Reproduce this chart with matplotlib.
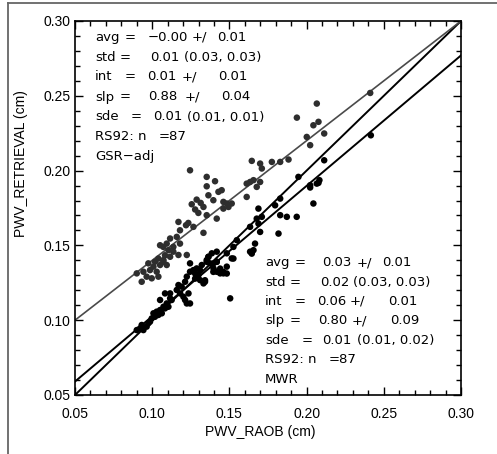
import matplotlib
matplotlib.use('Agg')

import matplotlib.pyplot as plt
from matplotlib.ticker import MultipleLocator, FormatStrFormatter
from matplotlib.lines import Line2D

# upper cloud (GSR-adj), dark gray dots
gsr_x = [0.1245, 0.1353, 0.1407, 0.1353, 0.1450, 0.1429, 0.1364, 0.1288, 0.1256, 0.1314,
         0.1332, 0.1278, 0.1396, 0.1461, 0.1483, 0.1494, 0.1461, 0.1515, 0.1353, 0.1299,
         0.1418, 0.1234, 0.1219, 0.1170, 0.1267, 0.1332, 0.1180, 0.1159, 0.1116, 0.1094,
         0.1072, 0.1051, 0.1105, 0.1137, 0.1180, 0.1083, 0.1040, 0.1072,
         0.0900, 0.0932, 0.0964, 0.0986, 0.1008, 0.1029, 0.1051, 0.0975, 0.1073, 0.1094,
         0.1116, 0.1137, 0.0997, 0.1040, 0.0943, 0.1018, 0.1170, 0.1224,
         0.1645, 0.1699, 0.1710, 0.1656, 0.1634, 0.1612, 0.1677, 0.1699, 0.1612, 0.1775,
         0.1829, 0.1883, 0.1937, 0.2023, 0.2044, 0.2077, 0.2001, 0.2066, 0.2412, 0.2114]
gsr_y = [0.2002, 0.1958, 0.1929, 0.1895, 0.1869, 0.1858, 0.1835, 0.1806, 0.1775, 0.1784,
         0.1757, 0.1740, 0.1802, 0.1791, 0.1780, 0.1757, 0.1746, 0.1780, 0.1702, 0.1717,
         0.1679, 0.1650, 0.1635, 0.1657, 0.1624, 0.1584, 0.1601, 0.1557, 0.1546, 0.1512,
         0.1490, 0.1501, 0.1468, 0.1490, 0.1512, 0.1434, 0.1412, 0.1390,
         0.1313, 0.1257, 0.1291, 0.1335, 0.1358, 0.1324, 0.1369, 0.1380, 0.1402, 0.1369,
         0.1424, 0.1458, 0.1280, 0.1291, 0.1324, 0.1391, 0.1436, 0.1436,
         0.2065, 0.2047, 0.2014, 0.1936, 0.1924, 0.1913, 0.1891, 0.1924, 0.1824, 0.2058,
         0.2058, 0.2074, 0.2354, 0.2170, 0.2303, 0.2326, 0.2225, 0.2448, 0.2519, 0.2248]

# lower cloud (MWR), black dots
mwr_x = [0.1947, 0.1829, 0.1796, 0.1829, 0.1872, 0.1936, 0.1818, 0.1688, 0.1677, 0.1688,
         0.1710, 0.1699, 0.1634, 0.1666, 0.1656, 0.1645, 0.1548, 0.1526, 0.1526, 0.1418,
         0.1396, 0.1364, 0.1353, 0.1440, 0.1461, 0.1483, 0.1396, 0.1310, 0.1278, 0.1278,
         0.1299, 0.1342, 0.2023, 0.2066, 0.2083,
         0.0900, 0.0921, 0.0943, 0.0964, 0.0975, 0.0986, 0.0997, 0.1008, 0.1018, 0.1029,
         0.1040, 0.1051, 0.1062, 0.1073, 0.1083, 0.1094, 0.1105, 0.1116, 0.1126, 0.1116,
         0.1159, 0.1170, 0.1181, 0.1202, 0.1213, 0.1224, 0.1245, 0.1235, 0.1191, 0.1213,
         0.1224, 0.1245, 0.1267, 0.1288, 0.1310, 0.1332, 0.1342, 0.1288, 0.1321, 0.1353,
         0.1364, 0.1375, 0.1397, 0.1418, 0.1440, 0.1461, 0.1483, 0.1515, 0.1483, 0.1418,
         0.1386, 0.1418, 0.1505, 0.1634, 0.1245, 0.1083, 0.1051, 0.0932,
         0.2416, 0.2114, 0.2077, 0.2023, 0.2044]
mwr_y = [0.1958, 0.1813, 0.1768, 0.1702, 0.1691, 0.1691, 0.1579, 0.1746, 0.1679, 0.1646,
         0.1691, 0.1590, 0.1624, 0.1512, 0.1468, 0.1445, 0.1535, 0.1490, 0.1412, 0.1390,
         0.1379, 0.1423, 0.1390, 0.1345, 0.1323, 0.1312, 0.1323, 0.1334, 0.1312, 0.1278,
         0.1301, 0.1267, 0.1902, 0.1913, 0.1936,
         0.0934, 0.0945, 0.0934, 0.0957, 0.0979, 0.0990, 0.1012, 0.1046, 0.1023, 0.1057,
         0.1035, 0.1068, 0.1046, 0.1090, 0.1079, 0.1112, 0.1090, 0.1146, 0.1135, 0.1179,
         0.1202, 0.1235, 0.1179, 0.1157, 0.1135, 0.1112, 0.1112, 0.1179, 0.1224, 0.1257,
         0.1291, 0.1324, 0.1335, 0.1302, 0.1268, 0.1246, 0.1257, 0.1346, 0.1369, 0.1402,
         0.1424, 0.1380, 0.1346, 0.1324, 0.1313, 0.1313, 0.1358, 0.1413, 0.1447, 0.1391,
         0.1447, 0.1458, 0.1146, 0.1458, 0.1380, 0.1179, 0.1135, 0.0968,
         0.2236, 0.2069, 0.1918, 0.1887, 0.1780]

# fitted lines (slope, intercept)
fit_gray = (0.80, 0.06)
fit_black = (0.872, 0.0154)
x_ends = [0.05, 0.30]

# statistics blocks: pieces of each line
stats_top = [
    ['avg', '=', '\u22120.00', '+/', '0.01'],
    ['std', '=', '0.01', '(0.03, 0.03)'],
    ['int', '=', '0.01', '+/', '0.01'],
    ['slp', '=', '0.88', '+/', '0.04'],
    ['sde', '=', '0.01', '(0.01, 0.01)'],
    ['RS92: n', '=87'],
    ['GSR\u2212adj'],
]
stats_bot = [
    ['avg', '=', '0.03', '+/', '0.01'],
    ['std', '=', '0.02', '(0.03, 0.03)'],
    ['int', '=', '0.06', '+/', '0.01'],
    ['slp', '=', '0.80', '+/', '0.09'],
    ['sde', '=', '0.01', '(0.01, 0.02)'],
    ['RS92: n', '=87'],
    ['MWR'],
]

# pixel columns of the pieces (figure is 497x454, axes box 75..461 x 21..395)
cols_top = [
    [95, 124.3, 147.3, 191.7, 216.7],
    [95, 120, 150, 184],
    [95, 125, 146.7, 181.7, 218.3],
    [95, 119.3, 148.3, 185, 221],
    [95, 131, 152.7, 186.7],
    [95, 158.3],
    [95],
]
rows_top = [41, 61, 80.5, 100.5, 120.5, 140, 160]
cols_bot = [
    [265, 295, 321.7, 356.7, 381.7],
    [265, 290, 320, 353.3],
    [265, 295, 316.7, 350, 388.3],
    [265, 290, 318.3, 352, 390],
    [265, 301.7, 321.7, 356.7],
    [265, 328.3],
    [265],
]
rows_bot = [266, 285.7, 305, 324, 344, 363.3, 383.3]

fig = plt.figure(figsize=(4.97, 4.54), dpi=100)
ax = fig.add_axes([75 / 497, 59 / 454, 386 / 497, 374 / 454])

ax.plot(x_ends, x_ends, color='black', lw=1.4)
ax.plot(x_ends, [fit_black[0] * x + fit_black[1] for x in x_ends], color='black', lw=1.4)
ax.plot(x_ends, [fit_gray[0] * x + fit_gray[1] for x in x_ends], color='#4a4a4a', lw=1.2)

ax.scatter(gsr_x, gsr_y, s=22, color='#2e2e2e', edgecolors='none', zorder=3)
ax.scatter(mwr_x, mwr_y, s=22, color='black', edgecolors='none', zorder=3)

ax.set_xlim(0.05, 0.30)
ax.set_ylim(0.05, 0.30)
ax.xaxis.set_major_locator(MultipleLocator(0.05))
ax.yaxis.set_major_locator(MultipleLocator(0.05))
ax.xaxis.set_minor_locator(MultipleLocator(0.01))
ax.yaxis.set_minor_locator(MultipleLocator(0.01))
ax.xaxis.set_major_formatter(FormatStrFormatter('%.2f'))
ax.yaxis.set_major_formatter(FormatStrFormatter('%.2f'))
ax.tick_params(which='both', direction='in', top=True, right=True, width=1)
ax.tick_params(which='major', length=6)
ax.tick_params(which='minor', length=3.5)
ax.tick_params(axis='x', pad=9)
ax.tick_params(axis='y', pad=3)
for lab in ax.get_xticklabels() + ax.get_yticklabels():
    lab.set_fontfamily('Liberation Sans')
    lab.set_fontsize(10)
for sp in ax.spines.values():
    sp.set_linewidth(1.2)

ax.set_xlabel('PWV_RAOB (cm)', fontfamily='Liberation Sans', fontsize=10)
ax.set_ylabel('PWV_RETRIEVAL (cm)', fontfamily='Liberation Sans', fontsize=10)
ax.xaxis.set_label_coords(0.479, -0.08)
ax.yaxis.set_label_coords(-0.122, 0.62)


def put_block(lines, cols, rows):
    for parts, xs, py in zip(lines, cols, rows):
        for s, px in zip(parts, xs):
            ax.text((px - 75) / 386, (395 - py) / 374, s, transform=ax.transAxes,
                    ha='left', va='baseline', fontsize=9.5, fontfamily='DejaVu Sans')


put_block(stats_top, cols_top, rows_top)
put_block(stats_bot, cols_bot, rows_bot)

# thin frame of the original page (left and top edges)
fig.add_artist(Line2D([7.5 / 497, 7.5 / 497], [0, 1 - 3 / 454], color='#666666', lw=1.3))
fig.add_artist(Line2D([7.5 / 497, 1], [1 - 3 / 454, 1 - 3 / 454], color='#666666', lw=1.3))

fig.savefig('out.png', dpi=100)
plt.close(fig)
